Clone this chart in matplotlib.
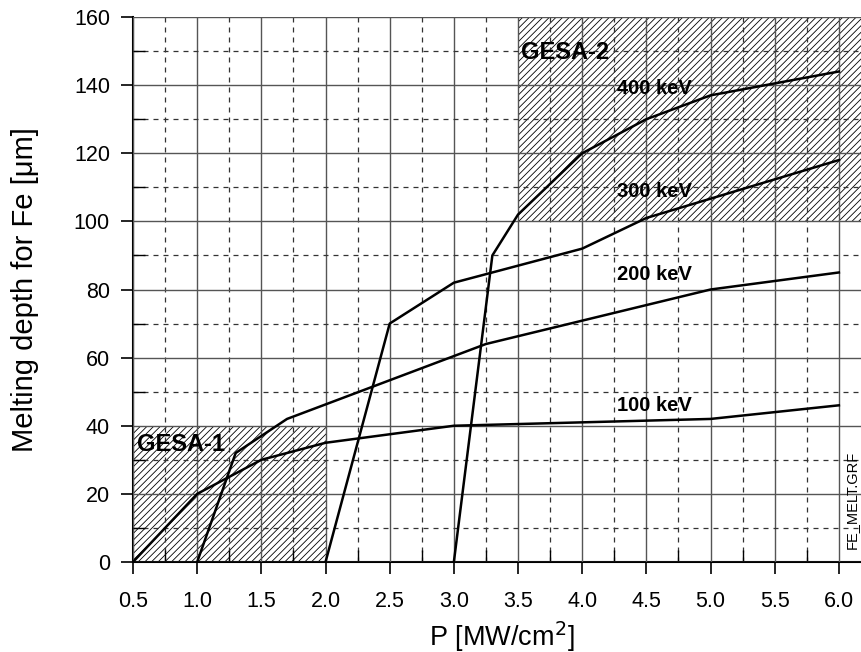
import matplotlib
matplotlib.use('Agg')
import matplotlib.pyplot as plt
from matplotlib.ticker import MultipleLocator

plt.rcParams['font.family'] = ['Liberation Sans', 'DejaVu Sans']
plt.rcParams['hatch.linewidth'] = 0.6

# curves: power density [MW/cm2] vs melting depth [um]
p_100 = [0.5, 1.0, 1.5, 2.0, 3.0, 5.0, 6.0]
d_100 = [0, 20, 30, 35, 40, 42, 46]
p_200 = [1.0, 1.3, 1.7, 3.25, 5.0, 6.0]
d_200 = [0, 32, 42, 64, 80, 85]
p_300 = [2.0, 2.5, 3.0, 4.0, 4.5, 6.0]
d_300 = [0, 70, 82, 92, 101, 118]
p_400 = [3.0, 3.3, 3.5, 4.0, 4.5, 5.0, 6.0]
d_400 = [0, 90, 102, 120, 130, 137, 144]

curves = [(p_100, d_100, '100 keV', 4.27, 45.9),
          (p_200, d_200, '200 keV', 4.27, 84.3),
          (p_300, d_300, '300 keV', 4.27, 108.7),
          (p_400, d_400, '400 keV', 4.27, 138.9)]

# hatched GESA regions: (x0, x1, y0, y1)
gesa1 = (0.5, 2.0, 0, 40)
gesa2 = (3.5, 6.2, 100, 160)

x_min, x_max = 0.5, 6.18
y_min, y_max = 0, 160

fig = plt.figure(figsize=(8.62, 6.52), dpi=100)
ax = fig.add_axes([133/862, 1 - 562/652, 1 - 133/862, 545/652])
ax.set_xlim(x_min, x_max)
ax.set_ylim(y_min, y_max)

# regions
for (x0, x1, y0, y1) in [gesa1, gesa2]:
    ax.fill_between([x0, x1], y0, y1, facecolor='none', edgecolor='black',
                    hatch='/////', linewidth=0, zorder=1)
ax.text(0.53, 34.5, 'GESA-1', fontsize=17, fontweight='bold', va='center', ha='left', zorder=4)
ax.text(3.52, 149.5, 'GESA-2', fontsize=17, fontweight='bold', va='center', ha='left', zorder=4)

# grid
ax.xaxis.set_minor_locator(MultipleLocator(0.25))
ax.yaxis.set_major_locator(MultipleLocator(20))
ax.yaxis.set_minor_locator(MultipleLocator(10))
ax.set_xticks([0.5 + 0.5*i for i in range(12)])
ax.set_xticklabels(['%.1f' % (0.5 + 0.5*i) for i in range(12)])
ax.grid(which='major', color='#555555', linewidth=1.0, linestyle='-', zorder=2)
ax.grid(which='minor', color='#333333', linewidth=0.9, linestyle=(0, (4, 4)), zorder=2)
ax.set_axisbelow(False)

for px, dy, lab, lx, ly in curves:
    ax.plot(px, dy, color='black', linewidth=1.8, zorder=3)
    ax.text(lx, ly, lab, fontsize=14.5, fontweight='bold', va='center', ha='left', zorder=4)

ax.spines['top'].set_visible(False)
ax.spines['right'].set_visible(False)
ax.spines['left'].set_linewidth(1.5)
ax.spines['bottom'].set_linewidth(1.5)

ax.tick_params(which='major', direction='out', length=8.6, width=1.2, labelsize=15.5, pad=12)
ax.tick_params(axis='y', which='major', pad=8)
ax.tick_params(which='minor', direction='in', length=8.6, width=1.0)

ax.set_xlabel('P [MW/cm$^2$]', fontsize=19.5)
ax.set_ylabel('Melting depth for Fe [μm]', fontsize=21)
ax.yaxis.set_label_coords(-0.129, 0.5)
ax.xaxis.set_label_coords(0.506, -0.105)

fig.text(852/862, 1 - 500/652, 'FE_MELT.GRF', fontsize=10.5, rotation=90,
         ha='center', va='center')

fig.savefig('out.png', dpi=100)
